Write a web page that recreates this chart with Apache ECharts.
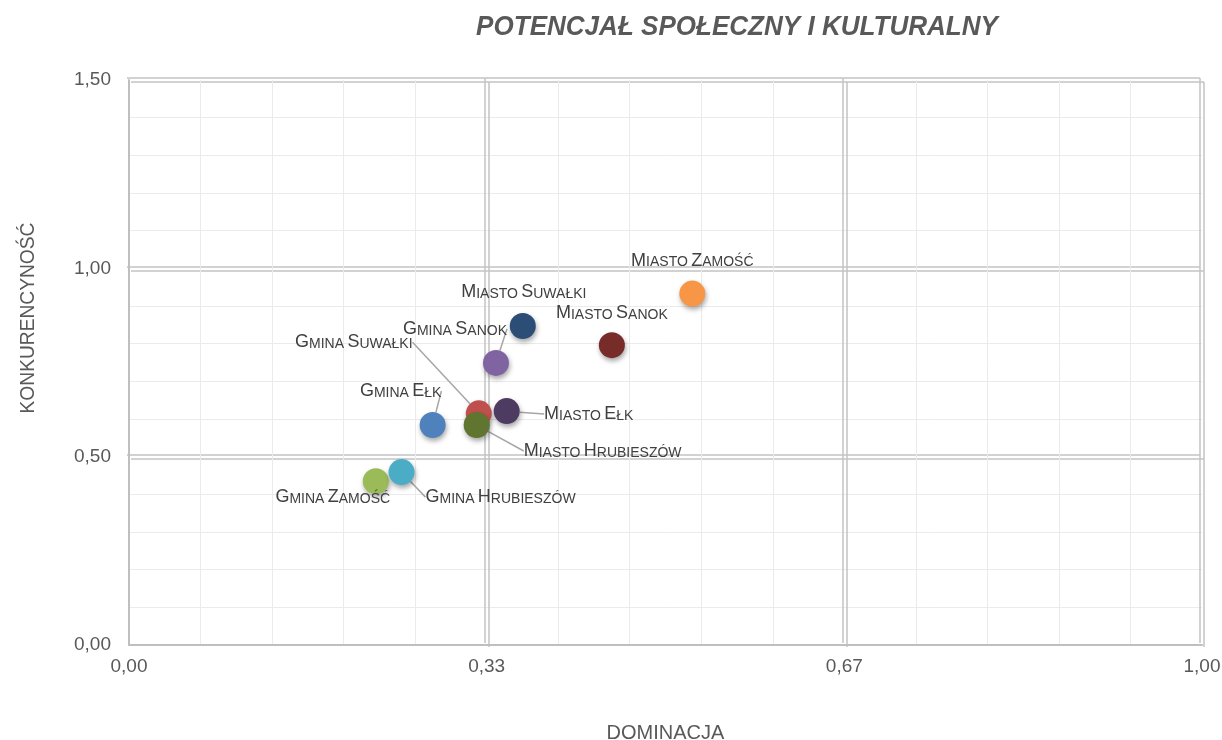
<!DOCTYPE html>
<html>
<head>
<meta charset="utf-8">
<script src="https://cdn.jsdelivr.net/npm/echarts@6/dist/echarts.min.js"></script>
<style>
html,body{margin:0;padding:0;background:#fff;}
#chart{width:1222px;height:740px;}
</style>
</head>
<body>
<div id="chart"></div>
<script>
// ---- data ----
const names = ['Gmina Zamość','Gmina Hrubieszów','Gmina Ełk','Gmina Suwałki','Miasto Hrubieszów','Miasto Ełk','Gmina Sanok','Miasto Suwałki','Miasto Sanok','Miasto Zamość'];
const dominacja = [0.230, 0.254, 0.283, 0.326, 0.324, 0.352, 0.342, 0.367, 0.450, 0.525];
const konkurencyjnosc = [0.435, 0.459, 0.584, 0.615, 0.584, 0.621, 0.749, 0.847, 0.796, 0.933];
const xTicks = [0, 1/3, 2/3, 1];
const yTicks = [0, 0.5, 1, 1.5];

// ---- styles ----
const colors = ['#9BBB59','#4BACC6','#4F81BD','#C0504D','#5F7530','#4D3B62','#8064A2','#2C4D75','#772C2A','#F79646'];
const labelOffsets = [[-43,14],[99,23],[-32,-36],[-125,-73],[126,24],[82,1],[-41,-36],[1,-36],[0,-34],[0,-35]];
const showLine = [false,true,true,true,true,true,true,false,false,false];
const FONT = "'Liberation Sans',Arial,sans-serif";
const fmt = v => v.toFixed(2).replace('.', ',');

function smallCaps(s){
  return s.split(' ').map(w => '{b|' + w[0].toUpperCase() + '}{s|' + w.slice(1).toUpperCase() + '}').join(' ');
}

const chart = echarts.init(document.getElementById('chart'));
const G = {left:129, right:20, top:80, bottom:95};
const grids = [
  G,
  {left:G.left-2, right:G.right+2, top:G.top-2, bottom:G.bottom+2},
  {left:G.left+2, right:G.right-2, top:G.top+2, bottom:G.bottom-2}
].map(g => Object.assign({outerBoundsMode:'none', containLabel:false}, g));
const majorLine = {show:true, showMinLine:false, lineStyle:{color:'#c3c3c3', width:1.5}};
function decoX(i){return {gridIndex:i, type:'value', min:0, max:1, interval:1/3, axisLine:{show:false}, axisTick:{show:false}, axisLabel:{show:false}, splitLine:majorLine};}
function decoY(i){return {gridIndex:i, type:'value', min:0, max:1.5, interval:0.5, axisLine:{show:false}, axisTick:{show:false}, axisLabel:{show:false}, splitLine:majorLine};}

const data = names.map((n,i) => ({
  name: n,
  value: [dominacja[i], konkurencyjnosc[i]],
  itemStyle: {color: colors[i]},
  labelLine: {show: showLine[i]}
}));

chart.setOption({
  animation:false,
  backgroundColor:'#fff',
  grid: grids,
  graphic: [
    {type:'text', x:737, y:27, scaleX:0.93, style:{text:'POTENCJAŁ SPOŁECZNY I KULTURALNY', fill:'#595959', font:"italic bold 28px " + FONT, align:'center', verticalAlign:'middle'}},
    {type:'text', x:28, y:318, rotation:Math.PI/2, scaleX:0.96, style:{text:'KONKURENCYNOŚĆ', fill:'#595959', font:"20px " + FONT, align:'center', verticalAlign:'middle'}}
  ],
  xAxis: [
    {gridIndex:0, type:'value', min:0, max:1, interval:1/3,
     name:'DOMINACJA', nameLocation:'middle', nameGap:78,
     nameTextStyle:{color:'#595959', fontSize:20, fontFamily:FONT},
     axisLine:{show:true, lineStyle:{color:'#bfbfbf', width:2}},
     axisTick:{show:false},
     axisLabel:{color:'#595959', fontSize:19, fontFamily:FONT, margin:12, formatter:fmt, showMaxLabel:true},
     splitLine:{show:false},
     minorTick:{show:false, splitNumber:5},
     minorSplitLine:{show:true, lineStyle:{color:'#ebebeb', width:1}}},
    decoX(1), decoX(2)
  ],
  yAxis: [
    {gridIndex:0, type:'value', min:0, max:1.5, interval:0.5,
     axisLine:{show:true, lineStyle:{color:'#bfbfbf', width:2}},
     axisTick:{show:false},
     axisLabel:{color:'#595959', fontSize:19, fontFamily:FONT, margin:18, formatter:fmt},
     splitLine:{show:false},
     minorTick:{show:false, splitNumber:5},
     minorSplitLine:{show:true, lineStyle:{color:'#ebebeb', width:1}}},
    decoY(1), decoY(2)
  ],
  series: [{
    type:'scatter',
    xAxisIndex:0, yAxisIndex:0,
    symbolSize:26,
    z:5,
    itemStyle:{opacity:1, shadowBlur:5, shadowOffsetX:1, shadowOffsetY:3, shadowColor:'rgba(0,0,0,0.35)'},
    label:{
      show:true, position:'inside',
      formatter: p => smallCaps(p.name),
      rich:{
        b:{fontSize:18, fontFamily:FONT, color:'#404040', verticalAlign:'bottom', lineHeight:22},
        s:{fontSize:14, fontFamily:FONT, color:'#404040', verticalAlign:'bottom', lineHeight:22}
      }
    },
    labelLine:{show:true, lineStyle:{color:'#a6a6a6', width:1.5}},
    labelLayout: p => ({dx: labelOffsets[p.dataIndex][0], dy: labelOffsets[p.dataIndex][1]}),
    data: data
  }]
});
</script>
</body>
</html>
